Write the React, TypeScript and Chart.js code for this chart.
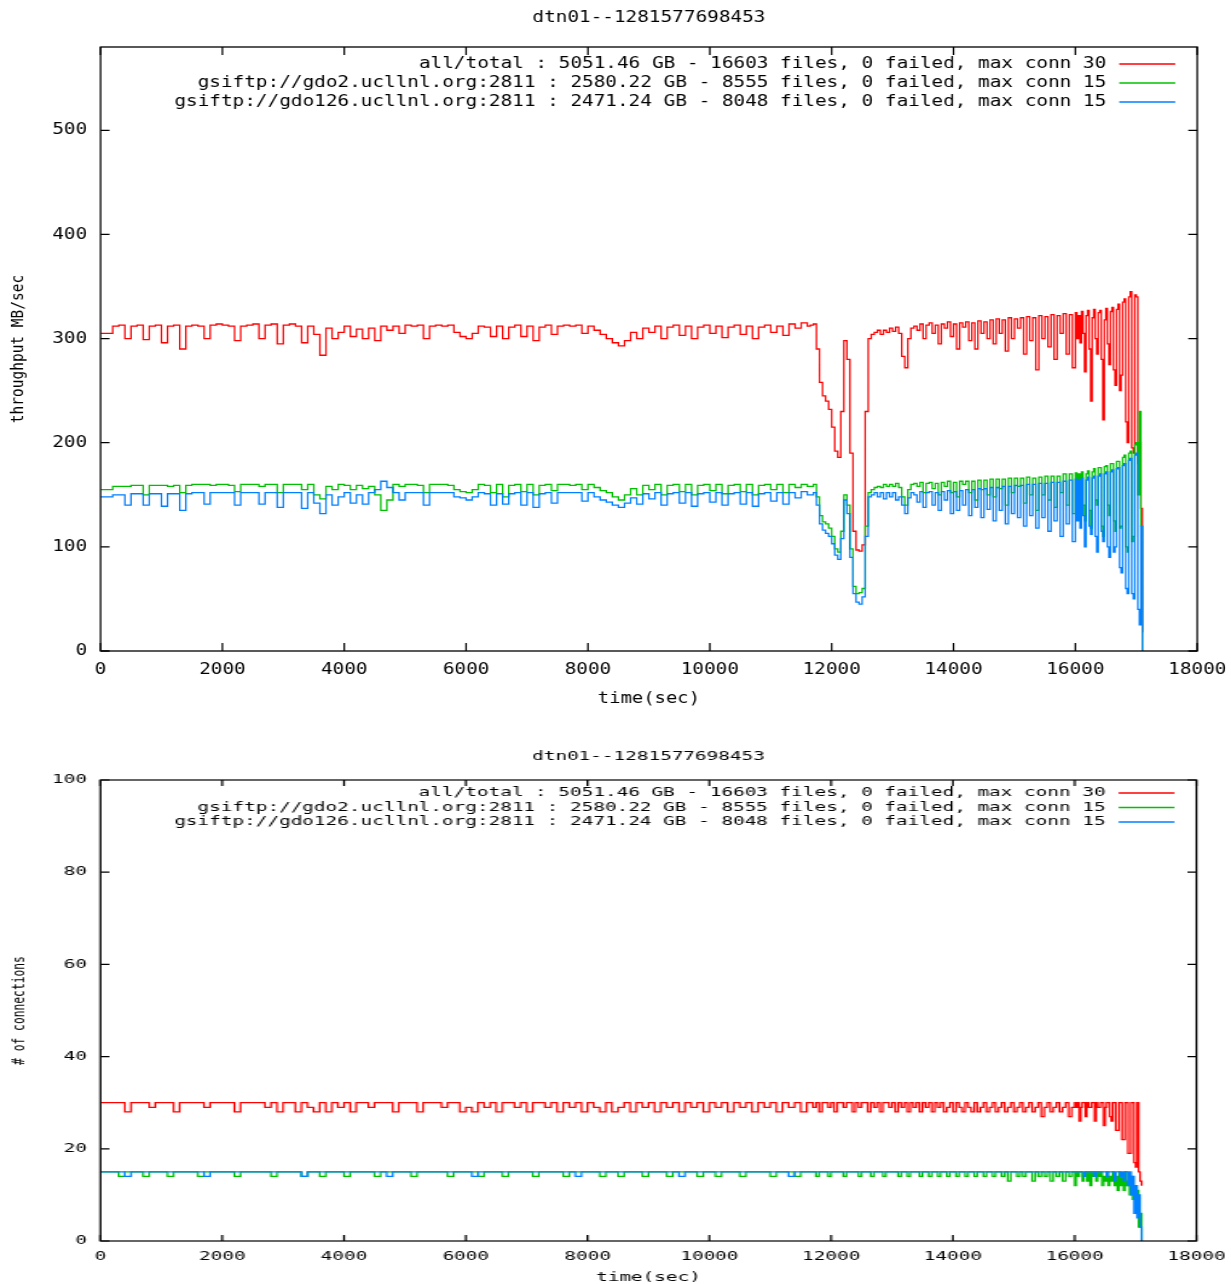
import React, { useEffect, useRef } from 'react';
import { Chart, registerables } from 'chart.js';

Chart.register(...registerables);

// ---------- sample times (seconds): every 100 s to 11600, every 50 s to 15950, every 25 s to 17100 ----------
const sampleGrid = (start: number, end: number, step: number): number[] => {
  const out: number[] = [];
  for (let t = start; t <= end; t += step) out.push(t);
  return out;
};
const TIMES: number[] = [
  ...sampleGrid(0, 11600, 100),
  ...sampleGrid(11650, 15950, 50),
  ...sampleGrid(16000, 17100, 25),
];

const CHART_TITLE = 'dtn01--1281577698453';
const LEGEND_LABELS = [
  'all/total : 5051.46 GB - 16603 files, 0 failed, max conn 30',
  'gsiftp://gdo2.ucllnl.org:2811 : 2580.22 GB - 8555 files, 0 failed, max conn 15',
  'gsiftp://gdo126.ucllnl.org:2811 : 2471.24 GB - 8048 files, 0 failed, max conn 15',
];
const COLORS = ['#ff0000', '#00c000', '#0080ff'];

const X_MIN = 0;
const X_MAX = 18000;
const X_STEP = 2000;
const TOP_Y_MAX = 580;
const TOP_Y_STEP = 100;
const BOT_Y_MAX = 100;
const BOT_Y_STEP = 20;

// ---------- throughput MB/sec ----------
const THROUGHPUT_TOTAL = [
  305, 305, 312, 313, 300, 312, 313, 299, 312, 313,
  296, 312, 313, 290, 312, 313, 312, 300, 313, 314,
  313, 312, 298, 312, 313, 314, 300, 313, 314, 295,
  313, 314, 312, 296, 312, 304, 284, 310, 300, 306,
  312, 302, 309, 300, 310, 298, 312, 308, 312, 305,
  313, 312, 313, 300, 312, 313, 312, 313, 306, 302,
  300, 305, 312, 311, 302, 312, 300, 311, 313, 302,
  312, 298, 311, 313, 304, 312, 313, 312, 313, 305,
  312, 308, 304, 300, 296, 293, 298, 306, 300, 310,
  306, 312, 300, 311, 313, 303, 312, 300, 311, 313,
  305, 312, 301, 311, 313, 304, 312, 300, 311, 313,
  306, 312, 303, 314, 310, 315, 312,
  // 11650 .. 15950 every 50 s
  313, 314, 290, 258, 245, 240, 232, 215, 192, 186,
  230, 298, 280, 190, 115, 97, 96, 102, 230, 300,
  304, 306, 308, 304, 308, 306, 310, 307, 311, 305,
  283, 272, 300, 310, 312, 308, 314, 300, 313, 315,
  305, 313, 295, 314, 310, 316, 302, 314, 290, 315,
  311, 316, 298, 315, 290, 317, 305, 316, 300, 318,
  295, 319, 305, 318, 288, 320, 300, 319, 310, 320,
  285, 321, 298, 320, 270, 322, 300, 321, 292, 323,
  280, 322, 305, 324, 285, 323, 272,
  // 16000 .. 17100 every 25 s
  325, 300, 322, 296, 326, 305, 268, 322, 327, 290,
  240, 320, 328, 300, 285, 325, 327, 280, 222, 318,
  329, 295, 275, 326, 330, 270, 255, 328, 333, 250,
  265, 335, 338, 220, 200, 340, 345, 195, 190, 342,
  340, 180, 200, 137, 18,
];

const THROUGHPUT_GDO2 = [
  155, 155, 158, 158, 158, 159, 159, 150, 159, 159,
  159, 158, 159, 152, 159, 160, 160, 160, 159, 160,
  160, 159, 153, 160, 160, 160, 158, 160, 160, 152,
  160, 160, 160, 155, 160, 150, 146, 158, 155, 160,
  159, 155, 159, 156, 158, 150, 135, 145, 160, 158,
  160, 160, 159, 152, 160, 160, 160, 159, 155, 153,
  152, 155, 160, 159, 152, 160, 148, 159, 160, 153,
  160, 150, 159, 160, 154, 160, 160, 159, 160, 155,
  160, 157, 154, 152, 148, 145, 150, 156, 150, 159,
  155, 160, 150, 159, 160, 153, 160, 150, 159, 160,
  154, 160, 151, 159, 160, 153, 160, 150, 159, 160,
  155, 160, 152, 160, 157, 160, 158,
  158, 160, 148, 130, 124, 122, 118, 110, 98, 95,
  115, 150, 140, 98, 62, 55, 56, 60, 120, 152,
  155, 157, 158, 157, 160, 158, 160, 158, 161, 157,
  148, 140, 155, 160, 161, 158, 162, 152, 161, 162,
  156, 161, 150, 162, 158, 163, 152, 162, 148, 163,
  160, 163, 152, 163, 145, 164, 155, 164, 150, 165,
  148, 165, 156, 165, 140, 166, 152, 166, 158, 166,
  142, 167, 150, 166, 135, 167, 150, 168, 145, 168,
  138, 168, 152, 170, 140, 170, 132,
  171, 150, 170, 148, 172, 140, 125, 170, 173, 135,
  118, 172, 175, 145, 140, 176, 176, 120, 110, 177,
  178, 140, 130, 180, 180, 125, 115, 182, 182, 118,
  120, 186, 188, 100, 95, 190, 192, 105, 110, 198,
  200, 150, 230, 120, 0,
];

const THROUGHPUT_GDO126 = [
  148, 148, 150, 150, 140, 151, 151, 140, 151, 151,
  139, 151, 151, 135, 151, 152, 152, 141, 152, 152,
  152, 152, 140, 152, 152, 152, 141, 152, 152, 138,
  152, 152, 152, 137, 152, 142, 132, 150, 140, 148,
  152, 142, 150, 141, 152, 155, 163, 157, 152, 145,
  152, 152, 152, 140, 152, 152, 152, 152, 148, 147,
  145, 148, 152, 151, 140, 151, 141, 151, 152, 140,
  152, 138, 151, 152, 142, 152, 152, 152, 152, 144,
  152, 148, 145, 143, 140, 138, 142, 147, 141, 151,
  146, 152, 140, 151, 152, 142, 152, 139, 151, 152,
  143, 152, 140, 151, 152, 141, 152, 139, 151, 152,
  144, 152, 141, 152, 147, 153, 150,
  150, 152, 140, 122, 116, 113, 110, 103, 92, 88,
  108, 145, 132, 90, 55, 47, 45, 52, 110, 148,
  150, 152, 148, 152, 146, 152, 148, 152, 145, 148,
  140, 132, 147, 152, 150, 143, 153, 138, 152, 153,
  140, 152, 135, 153, 145, 154, 132, 153, 135, 154,
  140, 155, 130, 155, 138, 156, 128, 156, 136, 157,
  125, 157, 135, 158, 122, 158, 132, 159, 128, 159,
  120, 160, 130, 160, 118, 161, 128, 161, 115, 162,
  125, 162, 110, 163, 122, 164, 105,
  165, 125, 164, 118, 166, 130, 100, 164, 167, 120,
  112, 166, 168, 110, 95, 168, 170, 115, 105, 170,
  172, 100, 90, 172, 174, 95, 100, 175, 176, 80,
  75, 178, 180, 60, 55, 183, 185, 55, 50, 188,
  190, 40, 25, 120, 0,
];

// ---------- number of connections ----------
const CONN_TOTAL = [
  30, 30, 30, 30, 28, 30, 30, 30, 29, 30,
  30, 30, 28, 30, 30, 30, 30, 29, 30, 30,
  30, 30, 28, 30, 30, 30, 30, 29, 30, 28,
  30, 30, 28, 30, 29, 28, 30, 28, 30, 29,
  30, 28, 30, 30, 29, 30, 30, 30, 28, 30,
  30, 30, 28, 30, 30, 30, 29, 30, 30, 28,
  29, 28, 30, 29, 30, 28, 30, 30, 29, 30,
  28, 30, 30, 29, 30, 28, 30, 29, 30, 28,
  30, 29, 28, 30, 28, 29, 30, 28, 30, 29,
  30, 28, 30, 29, 30, 28, 30, 29, 30, 28,
  30, 29, 30, 28, 30, 29, 30, 28, 30, 29,
  30, 28, 30, 29, 30, 28, 30,
  30, 29, 30, 28, 30, 30, 29, 30, 28, 30,
  30, 29, 30, 30, 28, 30, 29, 30, 30, 28,
  30, 29, 30, 28, 30, 30, 29, 30, 28, 30,
  29, 30, 28, 30, 29, 30, 28, 30, 29, 30,
  28, 30, 29, 30, 28, 29, 30, 28, 30, 29,
  28, 30, 29, 28, 30, 28, 29, 30, 28, 29,
  30, 28, 29, 30, 28, 29, 30, 28, 29, 30,
  28, 29, 30, 28, 29, 30, 27, 29, 30, 28,
  29, 30, 28, 29, 30, 27, 29,
  30, 29, 30, 26, 29, 30, 30, 27, 30, 29,
  29, 30, 30, 26, 30, 29, 29, 30, 30, 25,
  29, 30, 30, 27, 26, 30, 30, 24, 24, 30,
  30, 22, 22, 30, 30, 19, 19, 30, 30, 17,
  16, 30, 15, 13, 12,
];

const CONN_GDO2 = [
  15, 15, 15, 14, 15, 15, 15, 14, 15, 15,
  15, 14, 15, 15, 15, 15, 14, 15, 15, 15,
  15, 15, 14, 15, 15, 15, 15, 15, 14, 15,
  15, 15, 15, 14, 15, 15, 14, 15, 15, 15,
  14, 15, 15, 15, 15, 14, 15, 15, 15, 15,
  15, 14, 15, 15, 15, 15, 15, 14, 15, 15,
  15, 15, 14, 15, 15, 15, 14, 15, 15, 15,
  15, 14, 15, 15, 15, 15, 14, 15, 15, 15,
  15, 15, 14, 15, 15, 14, 15, 15, 15, 14,
  15, 15, 15, 14, 15, 15, 15, 15, 14, 15,
  15, 14, 15, 15, 15, 14, 15, 15, 15, 15,
  14, 15, 15, 15, 14, 15, 15,
  15, 15, 14, 15, 15, 15, 14, 15, 15, 15,
  15, 14, 15, 15, 15, 15, 14, 15, 15, 15,
  14, 15, 15, 15, 14, 15, 15, 15, 15, 14,
  15, 15, 14, 15, 15, 15, 14, 15, 15, 14,
  15, 15, 14, 15, 15, 14, 15, 15, 14, 15,
  15, 14, 15, 15, 14, 15, 15, 14, 15, 15,
  14, 15, 15, 14, 15, 13, 15, 15, 14, 15,
  14, 15, 15, 13, 15, 14, 15, 14, 15, 13,
  15, 14, 15, 13, 15, 14, 15,
  12, 15, 14, 15, 15, 13, 14, 15, 13, 15,
  12, 15, 14, 15, 13, 15, 14, 15, 12, 14,
  13, 15, 12, 14, 13, 15, 12, 14, 11, 15,
  12, 14, 11, 15, 12, 13, 10, 14, 9, 12,
  8, 11, 3, 6, 0,
];

const CONN_GDO126 = [
  15, 15, 15, 15, 14, 15, 15, 15, 15, 15,
  15, 15, 15, 15, 15, 15, 15, 14, 15, 15,
  15, 15, 15, 15, 15, 15, 15, 15, 15, 15,
  15, 15, 15, 14, 15, 15, 15, 15, 15, 15,
  15, 15, 15, 15, 15, 15, 15, 14, 15, 15,
  15, 15, 15, 15, 15, 15, 15, 15, 15, 15,
  15, 14, 15, 15, 15, 15, 15, 15, 15, 15,
  15, 15, 15, 15, 15, 15, 15, 15, 14, 15,
  15, 15, 15, 15, 15, 15, 15, 15, 15, 15,
  15, 15, 15, 15, 15, 14, 15, 15, 15, 15,
  15, 15, 15, 15, 15, 15, 15, 15, 15, 15,
  15, 15, 15, 14, 15, 15, 15,
  15, 15, 15, 15, 15, 15, 15, 15, 15, 15,
  15, 15, 15, 15, 15, 15, 15, 15, 15, 15,
  15, 15, 15, 15, 15, 15, 15, 15, 15, 15,
  15, 15, 15, 15, 15, 15, 15, 15, 15, 15,
  15, 15, 15, 15, 15, 15, 15, 15, 15, 15,
  15, 15, 15, 15, 15, 15, 15, 15, 15, 15,
  15, 15, 15, 15, 15, 15, 15, 15, 15, 15,
  15, 15, 15, 15, 15, 15, 15, 15, 15, 15,
  15, 15, 15, 15, 15, 15, 15,
  15, 15, 15, 15, 15, 15, 14, 15, 15, 15,
  15, 15, 15, 14, 15, 15, 15, 15, 15, 15,
  15, 14, 15, 15, 15, 15, 13, 15, 15, 15,
  14, 15, 13, 15, 15, 12, 15, 10, 14, 6,
  12, 5, 10, 3, 0,
];

// ---------- panel component ----------
const PAGE_W = 1231;
const MONO = 'DejaVu Sans Mono';

type PanelCfg = {
  cssTop: number;
  cssHeight: number;
  sx: number; // horizontal stretch applied by CSS
  yMax: number;
  yStep: number;
  plotTop: number;
  plotBottom: number;
  plotLeftCss: number;
  plotRightCss: number;
  tickFont: number;
  tickPadY: number;
  tickPadX: number;
  titleY: number;
  titleFont: number;
  xTitle: string;
  xTitleY: number;
  xTitleFont: number;
  yTitle: string;
  yTitleXCss: number;
  yTitleFont: number;
  legendY: number[];
  legendFont: number;
  legendTextRightCss: number;
  legendLineCss: [number, number];
  legendLineWidth: number;
  yTickLenCss: number;
  xTickLen: number;
  lineWidth: number;
  frameWidth: number;
  series: number[][];
};

function Panel({ cfg }: { cfg: PanelCfg }) {
  const ref = useRef<HTMLCanvasElement | null>(null);
  const W = Math.round(PAGE_W / cfg.sx);

  useEffect(() => {
    const canvas = ref.current;
    if (!canvas) return;
    const sx = cfg.sx;
    const plotLeft = cfg.plotLeftCss / sx;
    const plotRight = cfg.plotRightCss / sx;

    const frame = {
      id: 'gnuplotFrame',
      afterDatasetsDraw(chart: any) {
        const { ctx, chartArea: a, scales } = chart;
        ctx.save();
        ctx.strokeStyle = '#000';
        ctx.lineWidth = cfg.frameWidth;
        ctx.strokeRect(a.left, a.top, a.right - a.left, a.bottom - a.top);
        const yl = cfg.yTickLenCss / sx;
        ctx.beginPath();
        for (const t of scales.y.ticks) {
          const y = scales.y.getPixelForValue(t.value);
          ctx.moveTo(a.left, y);
          ctx.lineTo(a.left + yl, y);
          ctx.moveTo(a.right, y);
          ctx.lineTo(a.right - yl, y);
        }
        for (const t of scales.x.ticks) {
          const x = scales.x.getPixelForValue(t.value);
          ctx.moveTo(x, a.bottom);
          ctx.lineTo(x, a.bottom - cfg.xTickLen);
          ctx.moveTo(x, a.top);
          ctx.lineTo(x, a.top + cfg.xTickLen);
        }
        ctx.stroke();

        ctx.fillStyle = '#000';
        ctx.textBaseline = 'middle';
        ctx.textAlign = 'center';
        const cx = (a.left + a.right) / 2;
        ctx.font = `${cfg.titleFont}px "${MONO}"`;
        ctx.fillText(CHART_TITLE, cx, cfg.titleY);
        ctx.font = `${cfg.xTitleFont}px "${MONO}"`;
        ctx.fillText(cfg.xTitle, cx, cfg.xTitleY);

        ctx.save();
        ctx.translate(cfg.yTitleXCss / sx, (a.top + a.bottom) / 2);
        ctx.rotate(-Math.PI / 2);
        ctx.font = `${cfg.yTitleFont}px "${MONO}"`;
        ctx.fillText(cfg.yTitle, 0, 0);
        ctx.restore();

        // gnuplot style key: right aligned text then a line sample
        ctx.font = `${cfg.legendFont}px "${MONO}"`;
        ctx.textAlign = 'right';
        chart.data.datasets.forEach((ds: any, i: number) => {
          const y = cfg.legendY[i];
          ctx.fillStyle = '#000';
          ctx.fillText(ds.label, cfg.legendTextRightCss / sx, y);
          ctx.strokeStyle = ds.borderColor;
          ctx.lineWidth = cfg.legendLineWidth;
          ctx.beginPath();
          ctx.moveTo(cfg.legendLineCss[0] / sx, y);
          ctx.lineTo(cfg.legendLineCss[1] / sx, y);
          ctx.stroke();
        });
        ctx.restore();
      },
    };

    const toPoints = (vals: number[]) =>
      vals.slice(0, TIMES.length).map((v, i) => ({ x: TIMES[i], y: v }));

    const drawOrder = [2, 1, 0]; // blue on top, then green, then red
    const datasets = cfg.series.map((vals, i) => ({
      label: LEGEND_LABELS[i],
      data: toPoints(vals),
      borderColor: COLORS[i],
      backgroundColor: COLORS[i],
      borderWidth: cfg.lineWidth,
      stepped: true,
      pointRadius: 0,
      fill: false,
      tension: 0,
      order: drawOrder[i],
    }));

    const tickFont = { family: MONO, size: cfg.tickFont };
    const chart = new Chart(canvas, {
      type: 'line',
      data: { datasets },
      options: {
        responsive: false,
        animation: false,
        devicePixelRatio: 1,
        layout: { padding: { top: cfg.plotTop, right: W - plotRight, left: 0, bottom: 0 } },
        plugins: {
          legend: { display: false },
          tooltip: { enabled: false },
          title: { display: false },
        },
        scales: {
          x: {
            type: 'linear',
            min: X_MIN,
            max: X_MAX,
            grid: { display: false, drawTicks: false },
            border: { display: false },
            ticks: {
              stepSize: X_STEP,
              autoSkip: false,
              maxRotation: 0,
              includeBounds: false,
              padding: cfg.tickPadX,
              color: '#000',
              font: tickFont,
              callback: (v: any) => String(v),
            },
            afterFit: (s: any) => {
              s.height = cfg.cssHeight - cfg.plotBottom;
              s.paddingLeft = 0;
              s.paddingRight = 0;
            },
          },
          y: {
            type: 'linear',
            min: 0,
            max: cfg.yMax,
            grid: { display: false, drawTicks: false },
            border: { display: false },
            ticks: {
              stepSize: cfg.yStep,
              includeBounds: false,
              padding: cfg.tickPadY,
              color: '#000',
              font: tickFont,
              callback: (v: any) => String(v),
            },
            afterFit: (s: any) => {
              s.width = plotLeft;
              s.paddingTop = 0;
              s.paddingBottom = 0;
            },
          },
        },
      } as any,
      plugins: [frame],
    });
    return () => chart.destroy();
  }, []);

  return (
    <canvas
      ref={ref}
      width={W}
      height={cfg.cssHeight}
      style={{
        position: 'absolute',
        left: 0,
        top: cfg.cssTop,
        width: PAGE_W,
        height: cfg.cssHeight,
        display: 'block',
      }}
    />
  );
}

const TOP_PANEL: PanelCfg = {
  cssTop: 0,
  cssHeight: 715,
  sx: 1.209,
  yMax: TOP_Y_MAX,
  yStep: TOP_Y_STEP,
  plotTop: 47,
  plotBottom: 651,
  plotLeftCss: 100.5,
  plotRightCss: 1197,
  tickFont: 16,
  tickPadY: 11,
  tickPadX: 9,
  titleY: 18,
  titleFont: 16,
  xTitle: 'time(sec)',
  xTitleY: 699,
  xTitleFont: 15.6,
  yTitle: 'throughput MB/sec',
  yTitleXCss: 19,
  yTitleFont: 14.5,
  legendY: [64, 83, 102],
  legendFont: 16,
  legendTextRightCss: 1106,
  legendLineCss: [1119, 1175],
  legendLineWidth: 1.6,
  yTickLenCss: 9,
  xTickLen: 8,
  lineWidth: 1.3,
  frameWidth: 1.3,
  series: [THROUGHPUT_TOTAL, THROUGHPUT_GDO2, THROUGHPUT_GDO126],
};

const BOTTOM_PANEL: PanelCfg = {
  cssTop: 715,
  cssHeight: 569,
  sx: 1.612,
  yMax: BOT_Y_MAX,
  yStep: BOT_Y_STEP,
  plotTop: 65,
  plotBottom: 526,
  plotLeftCss: 100.5,
  plotRightCss: 1197,
  tickFont: 12,
  tickPadY: 8.4,
  tickPadX: 8.5,
  titleY: 42,
  titleFont: 12,
  xTitle: 'time(sec)',
  xTitleY: 563,
  xTitleFont: 12,
  yTitle: '# of connections',
  yTitleXCss: 19,
  yTitleFont: 11.3,
  legendY: [78, 92.5, 107],
  legendFont: 12,
  legendTextRightCss: 1106,
  legendLineCss: [1119, 1175],
  legendLineWidth: 1.4,
  yTickLenCss: 9,
  xTickLen: 6,
  lineWidth: 1.2,
  frameWidth: 1.2,
  series: [CONN_TOTAL, CONN_GDO2, CONN_GDO126],
};

export default function App() {
  return (
    <div
      style={{
        position: 'absolute',
        left: 0,
        top: 0,
        width: PAGE_W,
        height: 1284,
        background: '#fff',
        overflow: 'hidden',
      }}
    >
      <Panel cfg={TOP_PANEL} />
      <Panel cfg={BOTTOM_PANEL} />
    </div>
  );
}
